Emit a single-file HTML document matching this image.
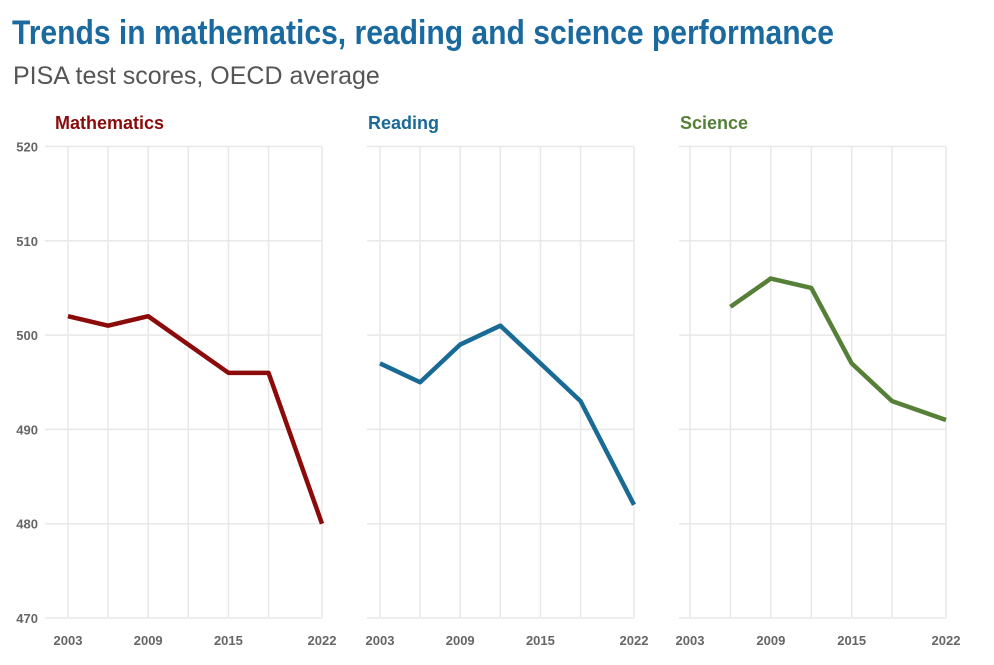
<!DOCTYPE html>
<html><head><meta charset="utf-8"><style>
body{margin:0;background:#fff;width:994px;height:660px;overflow:hidden;font-family:"Liberation Sans",sans-serif}
</style></head><body>
<svg width="994" height="660">
<text x="12" y="44" font-family="Liberation Sans Narrow, Liberation Sans, sans-serif" font-weight="bold" font-size="34" fill="#1a6aa0" textLength="822" lengthAdjust="spacingAndGlyphs">Trends in mathematics, reading and science performance</text>
<text x="13" y="84" font-size="25" fill="#555">PISA test scores, OECD average</text>
<g id="plots"></g>
</svg>
<script>
const years=[2003,2006,2009,2012,2015,2018,2022];
const mathValues=[502,501,502,499,496,496,480];
const readingValues=[497,495,499,501,497,493,482];
const scienceYears=[2006,2009,2012,2015,2018,2022];
const scienceValues=[503,506,505,497,493,491];
const yTicks=[470,480,490,500,510,520];
const xTickLabels=[2003,2009,2015,2022];
const panels=[
 {name:'Mathematics',color:'#8b0a0a',x0:68,x1:322,gl:45,tx:55,xs:years,vs:mathValues,key:'mathematics'},
 {name:'Reading',color:'#1a6a96',x0:380,x1:634,gl:367,tx:368,xs:years,vs:readingValues,key:'reading'},
 {name:'Science',color:'#568038',x0:690,x1:946,gl:679,tx:680,xs:scienceYears,vs:scienceValues,key:'science'}];
const NS='http://www.w3.org/2000/svg';
const g=document.getElementById('plots');
const yS=v=>146.5+(520-v)*(618-146.5)/50;
function mk(t,a,txt){const e=document.createElementNS(NS,t);for(const k in a)e.setAttribute(k,a[k]);if(txt!=null)e.textContent=txt;g.appendChild(e);return e;}
panels.forEach((p,i)=>{
 const xS=y=>p.x0+(y-2003)*(p.x1-p.x0)/19;
 yTicks.forEach(t=>{
  const l=mk('line',{x1:p.gl,x2:p.x1,y1:yS(t),y2:yS(t),stroke:'#e8e8e8','stroke-width':1.5});
  
  
  if(i===0){const tx=mk('text',{x:38,y:yS(t)+5,'text-anchor':'end','font-size':13,'font-weight':'bold',fill:'#666'},t);
   
   }
 });
 years.forEach(y=>{
  const l=mk('line',{x1:xS(y),x2:xS(y),y1:146.5,y2:618,stroke:'#e8e8e8','stroke-width':1.5});
  
  
 });
 xTickLabels.forEach(y=>{
  const tx=mk('text',{x:xS(y),y:645,'text-anchor':'middle','font-size':13,'font-weight':'bold',fill:'#666'},y);
  
  
 });
 const tt=mk('text',{x:p.tx,y:129,'font-size':18,'font-weight':'bold',fill:p.color},p.name);
 
 
 const pts=p.xs.map((y,j)=>xS(y)+','+yS(p.vs[j])).join(' ');
 const pl=mk('polyline',{points:pts,fill:'none',stroke:p.color,'stroke-width':4.5,'stroke-linejoin':'round'});
 
 
});
</script>
</body></html>
